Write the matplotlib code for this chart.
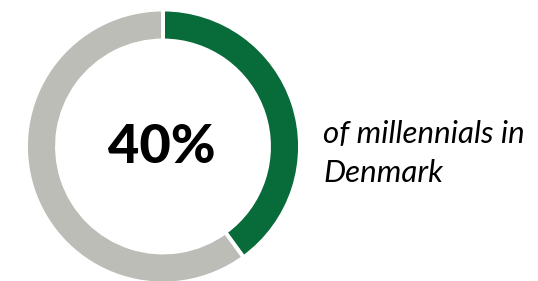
import matplotlib.pyplot as plt

labels = ['millennials in Denmark', 'others']
values = [40, 60]
colors = ['#086B3A', '#BDBDB8']
big_label = '40%'
caption_lines = ['of millennials in', 'Denmark']

W, H = 538, 281
fig = plt.figure(figsize=(W / 100, H / 100), dpi=100)
ax = fig.add_axes([0, 0, 1, 1])

# donut in pixel coordinates (y up)
cx, cy, r = 163, H - 146.5, 137
ax.pie(values, colors=colors, startangle=90, counterclock=False,
       center=(cx, cy), radius=r, frame=True,
       wedgeprops=dict(width=31, edgecolor='white', linewidth=2.8))
ax.set_xlim(0, W)
ax.set_ylim(0, H)
ax.set_aspect('equal')
ax.axis('off')

ax.text(161.5, H - 147.5, big_label, ha='center', va='center', fontsize=39,
        fontweight='black', family='Lato', color='black')

# caption, one baseline per line
for i, line in enumerate(caption_lines):
    ax.text(323, H - 143 - 39 * i, line, ha='left', va='baseline',
            fontsize=22.5, style='italic', family='Lato', color='black')

fig.savefig('out.png', dpi=100)
